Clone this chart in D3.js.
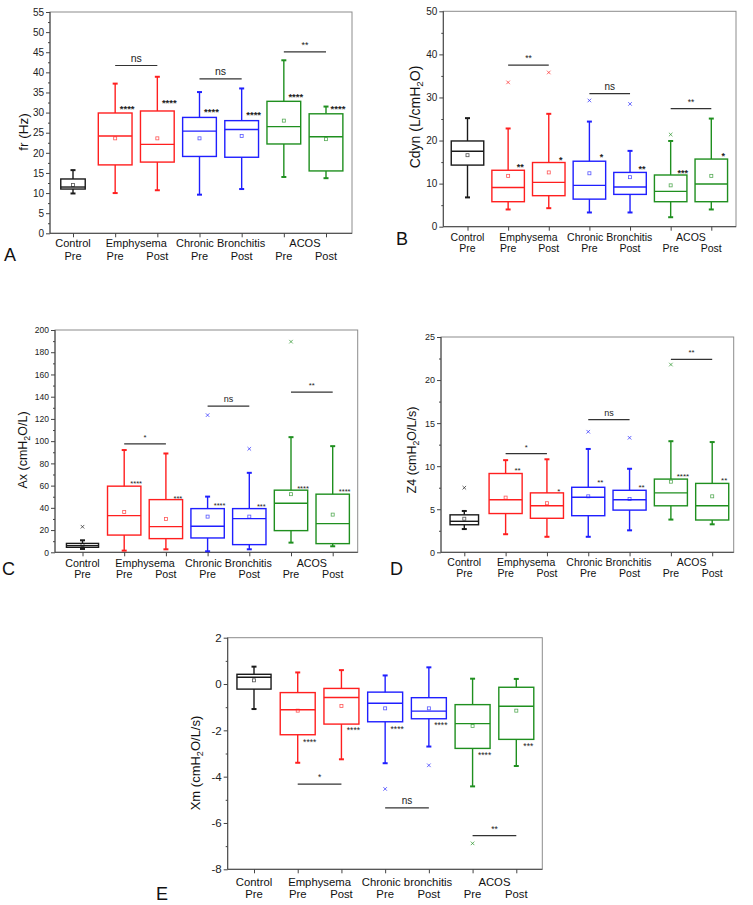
<!DOCTYPE html>
<html>
<head>
<meta charset="utf-8">
<script src="https://cdn.jsdelivr.net/npm/d3@7"></script>
<style>
  body { margin: 0; background: #fff; }
  text { font-family: "Liberation Sans", Arial, sans-serif; }
</style>
</head>
<body>
<script>
// Groups along every x axis: one box per group/phase.
const groupNames = ["Control", "Emphysema", "Chronic Bronchitis", "ACOS"];
const groupNamesE = ["Control", "Emphysema", "Chronic bronchitis", "ACOS"];
const phases = ["Pre", "Pre", "Post", "Pre", "Post", "Pre", "Post"];
const groupOfBox = [0, 1, 1, 2, 2, 3, 3];

// Box rows: [whisker low, q1, median, q3, whisker high, mean]
const frStats = [
  [9.9, 11.0, 11.5, 13.5, 15.7, 12.0],
  [10.0, 17.0, 24.2, 29.9, 37.2, 23.6],
  [10.7, 17.7, 22.1, 30.4, 38.9, 23.6],
  [9.6, 19.1, 25.4, 28.8, 35.1, 23.6],
  [11.0, 18.9, 25.8, 28.0, 36.0, 24.2],
  [14.0, 22.2, 26.5, 32.8, 43.0, 28.0],
  [13.7, 15.5, 24.0, 29.7, 31.5, 23.4]
];
const frOutliers = [];
const frStars = [null, ["****", 31.6], ["****", 32.9], ["****", 30.8], ["****", 30.0], ["****", 34.5], ["****", 31.5]];
const frSig = [["ns", 1, 2, 41.7], ["ns", 3, 4, 38.4], ["**", 5, 6, 45.1]];

const cdynStats = [
  [6.8, 14.3, 17.5, 19.9, 25.2, 16.6],
  [4.0, 5.8, 9.1, 13.1, 22.8, 11.8],
  [4.3, 7.2, 10.3, 14.9, 26.2, 12.6],
  [3.3, 6.4, 9.6, 15.2, 24.4, 12.4],
  [3.3, 7.5, 9.2, 12.6, 17.6, 11.5],
  [2.2, 5.8, 8.2, 12.0, 19.9, 9.6],
  [4.0, 5.8, 9.9, 15.7, 25.1, 11.8]
];
const cdynOutliers = [[1, 33.5], [2, 35.8], [3, 29.3], [4, 28.5], [5, 21.4]];
const cdynStars = [null, ["**", 14.3], ["*", 15.9], ["*", 16.6], ["**", 13.8], ["***", 13.0], ["*", 17.0]];
const cdynSig = [["**", 1, 2, 37.5], ["ns", 3, 4, 30.9], ["**", 5, 6, 27.4]];

const axStats = [
  [3.0, 4.5, 6.0, 8.0, 10.8, 6.5],
  [1.5, 15.5, 33.0, 59.5, 92.0, 36.3],
  [2.7, 12.3, 23.1, 47.4, 88.9, 30.0],
  [0.9, 12.9, 23.4, 39.3, 50.1, 32.1],
  [2.7, 6.9, 30.3, 39.3, 71.5, 32.1],
  [8.7, 19.5, 44.1, 55.9, 103.6, 52.3],
  [5.4, 7.8, 25.8, 52.3, 95.5, 33.9]
];
const axOutliers = [[0, 23.0], [3, 123.4], [4, 93.1], [5, 189.5]];
const axStars = [null, ["****", 64], ["***", 50], ["****", 43.5], ["***", 43], ["****", 59], ["****", 56]];
const axSig = [["*", 1, 2, 97.6], ["ns", 3, 4, 131.5], ["**", 5, 6, 144.1]];

const z4Stats = [
  [2.7, 3.2, 3.6, 4.35, 4.8, 3.9],
  [2.1, 4.5, 6.1, 9.15, 10.7, 6.35],
  [1.8, 3.95, 5.4, 6.9, 10.8, 5.7],
  [1.8, 4.25, 6.4, 7.55, 12.0, 6.5],
  [2.55, 4.9, 6.1, 7.2, 9.7, 6.2],
  [3.8, 5.4, 6.9, 8.5, 12.9, 8.2],
  [3.25, 3.75, 5.4, 8.0, 12.8, 6.5]
];
const z4Outliers = [[0, 7.5], [3, 14.0], [4, 13.3], [5, 21.8]];
const z4Stars = [null, ["**", 9.7], ["*", 7.3], ["**", 8.3], ["**", 7.8], ["****", 9.1], ["**", 8.6]];
const z4Sig = [["*", 1, 2, 11.45], ["ns", 3, 4, 15.4], ["**", 5, 6, 22.4]];

const xmStats = [
  [-1.08, -0.22, 0.29, 0.42, 0.75, 0.16],
  [-3.4, -2.19, -1.11, -0.37, 0.5, -1.15],
  [-3.25, -1.73, -0.58, -0.19, 0.6, -0.95],
  [-3.42, -1.63, -0.83, -0.35, 0.37, -1.05],
  [-2.7, -1.5, -1.17, -0.59, 0.72, -1.05],
  [-4.42, -2.78, -1.71, -0.89, 0.23, -1.81],
  [-3.54, -2.39, -0.96, -0.14, 0.22, -1.15]
];
const xmOutliers = [[3, -4.53], [4, -3.51], [5, -6.88]];
const xmStars = [null, ["****", -2.4], ["****", -1.9], ["****", -1.86], ["****", -1.7], ["****", -2.96], ["***", -2.6]];
const xmSig = [["*", 1, 2, -4.32], ["ns", 3, 4, -5.35], ["**", 5, 6, -6.55]];

const COLORS = ["#1a1a1a", "#ff1f1f", "#ff1f1f", "#1f1fff", "#1f1fff", "#1f8f1f", "#1f8f1f"];

// Layout of each panel in page pixels (frame edges, first/last box centre, text spots).
const panels = [
  { letter: "A", lx: 4, ly: 261, stats: frStats, outliers: frOutliers, stars: frStars, sig: frSig,
    label: ["fr (Hz)"], labX: 23, labY: 132, labFs: 13.5,
    domain: [0, 55], major: 5, minor: 2.5,
    left: 50, right: 352, top: 12, bottom: 233.3, first: 73, last: 326, controlW: 0.58,
    tickFs: 10, catFs: 11, row1: 14, row2: 26.5, starFs: 9.5, starW: "bold", sigFs: 10.5, names: groupNames },
  { letter: "B", lx: 396, ly: 245, stats: cdynStats, outliers: cdynOutliers, stars: cdynStars, sig: cdynSig,
    label: ["Cdyn (L/cmH", "2", "O)"], labX: 415, labY: 117, labFs: 14,
    domain: [0, 50], major: 10, minor: 5,
    left: 443.3, right: 736, top: 11.3, bottom: 226.7, first: 467.5, last: 711.3, controlW: 0.8,
    tickFs: 10, catFs: 10.5, row1: 14, row2: 25, starFs: 9, starW: "bold", sigFs: 10, names: groupNames },
  { letter: "C", lx: 2, ly: 575, stats: axStats, outliers: axOutliers, stars: axStars, sig: axSig,
    label: ["Ax (cmH", "2", "O/L)"], labX: 23, labY: 450, labFs: 12.5,
    domain: [0, 200], major: 20, minor: 10,
    left: 55, right: 357.7, top: 330, bottom: 552.3, first: 82.5, last: 332.7, controlW: 0.77,
    tickFs: 8.5, catFs: 10.7, row1: 14.4, row2: 25.7, starFs: 7.5, starW: "normal", sigFs: 9, names: groupNames },
  { letter: "D", lx: 390, ly: 575, stats: z4Stats, outliers: z4Outliers, stars: z4Stars, sig: z4Sig,
    label: ["Z4 (cmH", "2", "O/L/s)"], labX: 412, labY: 450, labFs: 12.5,
    domain: [0, 25], major: 5, minor: 2.5,
    left: 441, right: 733.7, top: 337, bottom: 552.3, first: 464.3, last: 712.2, controlW: 0.69,
    tickFs: 9, catFs: 10.5, row1: 14, row2: 25, starFs: 8, starW: "normal", sigFs: 9, names: groupNames },
  { letter: "E", lx: 156, ly: 900, stats: xmStats, outliers: xmOutliers, stars: xmStars, sig: xmSig,
    label: ["Xm (cmH", "2", "O/L/s)"], labX: 195, labY: 763, labFs: 13,
    domain: [-8, 2], major: 2, minor: 1,
    left: 227.7, right: 542.3, top: 637.7, bottom: 869.3, first: 254, last: 516.3, controlW: 0.78,
    tickFs: 11.5, catFs: 11.3, row1: 16.7, row2: 28.7, starFs: 8.5, starW: "normal", sigFs: 10, names: groupNamesE }
];

const svg = d3.select("body").append("svg")
  .attr("width", 753)
  .attr("height", 905);

panels.forEach(drawPanel);

function drawPanel(p) {
  const g = svg.append("g");
  const y = d3.scaleLinear().domain(p.domain).range([p.bottom, p.top]);
  const x = d3.scalePoint().domain(d3.range(phases.length)).range([p.first, p.last]);
  const bw = x.step() * 0.8;
  const boxW = (i) => (i === 0 ? x.step() * p.controlW : bw);

  // Frame: grey top/right, dark axes left/bottom.
  g.append("rect")
    .attr("x", p.left).attr("y", p.top)
    .attr("width", p.right - p.left).attr("height", p.bottom - p.top)
    .attr("fill", "#fff").attr("stroke", "#8c8c8c").attr("stroke-width", 1);

  const majors = d3.range(p.domain[0], p.domain[1] + 1e-9, p.major);
  const minors = d3.range(p.domain[0] + p.minor, p.domain[1], p.major);

  const yAxis = g.append("g")
    .attr("transform", `translate(${p.left},0)`)
    .call(d3.axisLeft(y).tickValues(majors).tickSize(4).tickPadding(2).tickFormat((d) => String(d)));
  yAxis.append("g")
    .call(d3.axisLeft(y).tickValues(minors).tickSize(2).tickFormat(""));
  yAxis.selectAll(".domain").remove();
  yAxis.selectAll("line").attr("stroke", "#444");
  yAxis.selectAll("text")
    .attr("font-size", p.tickFs)
    .attr("font-family", "Liberation Sans, Arial, sans-serif")
    .attr("fill", "#222");

  const xAxis = g.append("g")
    .attr("transform", `translate(0,${p.bottom})`)
    .call(d3.axisBottom(x).tickSize(4).tickFormat(""));
  xAxis.selectAll(".domain").remove();
  xAxis.selectAll("line").attr("stroke", "#444");

  g.append("line")
    .attr("x1", p.left).attr("x2", p.left)
    .attr("y1", p.top).attr("y2", p.bottom)
    .attr("stroke", "#444");
  g.append("line")
    .attr("x1", p.left).attr("x2", p.right)
    .attr("y1", p.bottom).attr("y2", p.bottom)
    .attr("stroke", "#444");

  // Category labels: group name row, then Pre/Post row.
  const groupIdx = d3.range(groupNames.length);
  g.selectAll("text.group")
    .data(groupIdx)
    .join("text")
    .attr("class", "group")
    .attr("x", (gi) => d3.mean(d3.range(phases.length).filter((i) => groupOfBox[i] === gi), (i) => x(i)))
    .attr("y", p.bottom + p.row1)
    .attr("text-anchor", "middle")
    .attr("font-size", p.catFs)
    .attr("fill", "#111")
    .text((gi) => p.names[gi]);
  g.selectAll("text.phase")
    .data(phases)
    .join("text")
    .attr("class", "phase")
    .attr("x", (d, i) => x(i))
    .attr("y", p.bottom + p.row2)
    .attr("text-anchor", "middle")
    .attr("font-size", p.catFs)
    .attr("fill", "#111")
    .text((d) => d);

  // Boxes
  const box = g.selectAll("g.box")
    .data(p.stats)
    .join("g")
    .attr("class", "box")
    .attr("transform", (d, i) => `translate(${x(i)},0)`)
    .attr("stroke", (d, i) => COLORS[i])
    .attr("stroke-width", 1.4)
    .attr("fill", "none");

  box.append("line")
    .attr("y1", (d) => y(d[0])).attr("y2", (d) => y(d[1]));
  box.append("line")
    .attr("y1", (d) => y(d[3])).attr("y2", (d) => y(d[4]));
  [0, 4].forEach((k) => {
    box.append("line")
      .attr("x1", -2.5).attr("x2", 2.5)
      .attr("y1", (d) => y(d[k])).attr("y2", (d) => y(d[k]))
      .attr("stroke-width", 2);
  });
  box.append("rect")
    .attr("x", (d, i) => -boxW(i) / 2)
    .attr("width", (d, i) => boxW(i))
    .attr("y", (d) => y(d[3]))
    .attr("height", (d) => y(d[1]) - y(d[3]));
  box.append("line")
    .attr("x1", (d, i) => -boxW(i) / 2)
    .attr("x2", (d, i) => boxW(i) / 2)
    .attr("y1", (d) => y(d[2])).attr("y2", (d) => y(d[2]));
  box.append("rect")
    .attr("x", -1.5).attr("width", 3)
    .attr("y", (d) => y(d[5]) - 1.5).attr("height", 3)
    .attr("stroke-width", 0.8)
    .attr("stroke-opacity", 0.75);

  // Outliers
  g.selectAll("path.outlier")
    .data(p.outliers)
    .join("path")
    .attr("class", "outlier")
    .attr("d", d3.symbol(d3.symbolX, 10))
    .attr("transform", (d) => `translate(${x(d[0])},${y(d[1])})`)
    .attr("fill", "none")
    .attr("stroke", (d) => COLORS[d[0]])
    .attr("stroke-opacity", 0.75)
    .attr("stroke-width", 0.9);

  // Asterisks next to each box (vs control)
  g.selectAll("text.star")
    .data(p.stars.map((s, i) => (s ? { i, t: s[0], v: s[1] } : null)).filter(Boolean))
    .join("text")
    .attr("class", "star")
    .attr("x", (d) => x(d.i) + 12)
    .attr("y", (d) => y(d.v) + 0.58 * p.starFs)
    .attr("text-anchor", "middle")
    .attr("font-size", p.starFs)
    .attr("font-weight", p.starW)
    .attr("fill", "#222")
    .text((d) => d.t);

  // Pre vs Post brackets
  const sig = g.selectAll("g.sig").data(p.sig).join("g").attr("class", "sig");
  sig.append("line")
    .attr("x1", (d) => x(d[1])).attr("x2", (d) => x(d[2]))
    .attr("y1", (d) => y(d[3])).attr("y2", (d) => y(d[3]))
    .attr("stroke", "#333").attr("stroke-width", 1.2);
  sig.append("text")
    .attr("x", (d) => (x(d[1]) + x(d[2])) / 2)
    .attr("y", (d) => y(d[3]) - 4)
    .attr("text-anchor", "middle")
    .attr("font-size", (d) => (d[0] === "ns" ? p.sigFs : p.sigFs * 0.85))
    .attr("fill", "#222")
    .text((d) => d[0]);

  // Y label with subscript 2
  const lab = g.append("text")
    .attr("transform", `translate(${p.labX},${p.labY}) rotate(-90)`)
    .attr("text-anchor", "middle")
    .attr("dy", "0.35em")
    .attr("font-size", p.labFs)
    .attr("fill", "#111");
  lab.append("tspan").text(p.label[0]);
  if (p.label.length > 1) {
    lab.append("tspan").attr("font-size", p.labFs * 0.7).attr("dy", 3).text(p.label[1]);
    lab.append("tspan").attr("dy", -3).text(p.label[2]);
  }

  // Panel letter
  svg.append("text")
    .attr("x", p.lx).attr("y", p.ly)
    .attr("font-family", "Open Sans, sans-serif")
    .attr("font-size", 18)
    .attr("fill", "#111")
    .text(p.letter);
}
</script>
</body>
</html>
